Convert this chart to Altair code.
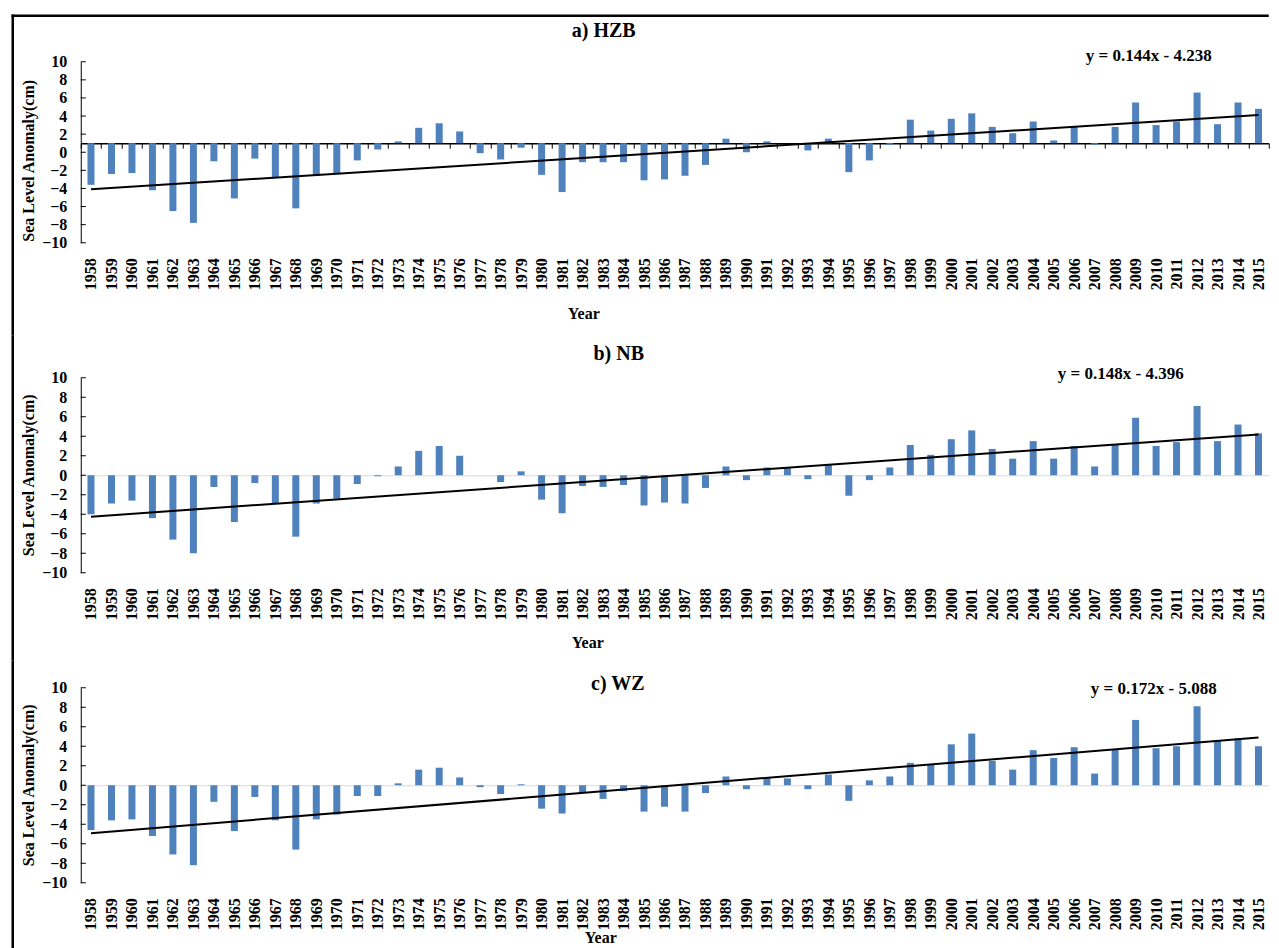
import altair as alt
import pandas as pd

years = [str(y) for y in range(1958, 2016)]

hzb = [-3.6, -2.4, -2.3, -4.2, -6.5, -7.8, -1.0, -5.1, -0.7, -2.8,
       -6.2, -2.6, -2.3, -0.9, 0.3, 1.2, 2.7, 3.2, 2.3, -0.1,
       -0.8, 0.5, -2.5, -4.4, -1.1, -1.1, -1.1, -3.1, -3.0, -2.6,
       -1.4, 1.5, 0.0, 1.2, 1.0, 0.2, 1.5, -2.2, -0.9, 0.8,
       3.6, 2.4, 3.7, 4.3, 2.8, 2.1, 3.4, 1.3, 2.9, 0.8,
       2.8, 5.5, 3.0, 3.4, 6.6, 3.1, 5.5, 4.8]
nb = [-4.0, -2.9, -2.6, -4.4, -6.6, -8.0, -1.2, -4.8, -0.8, -2.9,
      -6.3, -2.9, -2.4, -0.9, -0.1, 0.9, 2.5, 3.0, 2.0, 0.0,
      -0.7, 0.4, -2.5, -3.9, -1.1, -1.2, -1.0, -3.1, -2.8, -2.9,
      -1.3, 0.9, -0.5, 0.8, 0.8, -0.4, 1.1, -2.1, -0.5, 0.8,
      3.1, 2.1, 3.7, 4.6, 2.7, 1.7, 3.5, 1.7, 3.0, 0.9,
      3.2, 5.9, 3.0, 3.4, 7.1, 3.5, 5.2, 4.3]
wz = [-4.6, -3.6, -3.5, -5.2, -7.1, -8.2, -1.7, -4.7, -1.2, -3.6,
      -6.6, -3.5, -3.0, -1.1, -1.1, 0.2, 1.6, 1.8, 0.8, -0.2,
      -0.9, 0.1, -2.4, -2.9, -0.8, -1.4, -0.6, -2.7, -2.2, -2.7,
      -0.8, 0.9, -0.4, 0.8, 0.7, -0.4, 1.1, -1.6, 0.5, 0.9,
      2.3, 2.1, 4.2, 5.3, 2.5, 1.6, 3.6, 2.8, 3.9, 1.2,
      3.7, 6.7, 3.8, 4.0, 8.1, 4.6, 4.8, 4.0]

panel_titles = ["a) HZB", "b) NB", "c) WZ"]
slopes = [0.144, 0.148, 0.172]
intercepts = [-4.238, -4.396, -5.088]
equations = ["y = 0.144x - 4.238", "y = 0.148x - 4.396", "y = 0.172x - 5.088"]
bar_bases = [1.0, 0.0, 0.0]
y_ticks = [-10, -8, -6, -4, -2, 0, 2, 4, 6, 8, 10]
y_title = "Sea Level Anomaly(cm)"
x_title = "Year"

FONT = "Liberation Serif"
BAR = "#4F81BD"
W = 1188
FX = -68      # frame line centre, relative to plot left
FW = 2.5      # frame line thickness


def text_layer(txt, x, y, size, angle=0):
    return alt.Chart(pd.DataFrame({"t": [txt]})).mark_text(
        font=FONT, fontSize=size, fontWeight="bold", color="black",
        align="center", baseline="middle", angle=angle
    ).encode(text="t:N", x=alt.value(x), y=alt.value(y))


def frame_rect(x, x2, y, y2):
    return alt.Chart(pd.DataFrame({"a": [0]})).mark_rect(
        color="black", strokeWidth=0
    ).encode(x=alt.value(x), x2=alt.value(x2), y=alt.value(y), y2=alt.value(y2))


def panel(vals, base, title, slope, icpt, eq, H, g, first=False):
    df = pd.DataFrame({"year": years, "v": vals, "base": [base] * len(years)})
    yscale = alt.Scale(domain=[-10, 10], nice=False, zero=False)
    off = H * (base + 10) / 20.0
    is_a = base != 0
    xaxis = alt.Axis(
        title=None, orient="bottom", offset=-off, labelAngle=270,
        labelAlign="right", labelBaseline="middle",
        labelPadding=(off + 15 - 5) if is_a else (off + 15),
        labelFont=FONT, labelFontSize=16, labelFontWeight="bold",
        labelColor="black", labelOverlap=False,
        domainColor="black" if is_a else "#d9d9d9",
        domainWidth=1.5 if is_a else 1,
        ticks=is_a, tickSize=5 if is_a else 0, tickColor="black",
        tickBand="extent", grid=False,
    )
    yaxis = alt.Axis(
        title=None, values=y_ticks, ticks=False, labelPadding=14,
        labelFont=FONT, labelFontSize=16, labelFontWeight="bold",
        labelColor="black", domainColor="black", domainWidth=1, grid=False,
    )
    xscale = alt.Scale(domain=years, paddingInner=0, paddingOuter=0)
    bars = alt.Chart(df).mark_bar(width=7, color=BAR).encode(
        x=alt.X("year:N", scale=xscale, axis=xaxis),
        y=alt.Y("v:Q", scale=yscale, axis=yaxis),
        y2="base:Q",
    )
    tdf = pd.DataFrame({
        "year": [years[0], years[-1]],
        "ty": [slope * 1 + icpt, slope * len(years) + icpt],
    })
    trend = alt.Chart(tdf).mark_line(color="black", strokeWidth=2).encode(
        x=alt.X("year:N", scale=xscale, axis=xaxis),
        y=alt.Y("ty:Q", scale=yscale, axis=yaxis),
    )
    ticks = alt.Chart(pd.DataFrame({"t": y_ticks})).mark_rule(
        color="black", strokeWidth=1
    ).encode(
        y=alt.Y("t:Q", scale=yscale, axis=yaxis),
        x=alt.value(0), x2=alt.value(5),
    )
    layers = [
        bars, trend, ticks,
        text_layer(title, g["tx"], g["ty"], 20),
        text_layer(eq, g["ex"], g["ey"], 17),
        text_layer(x_title, g["yx"], g["yy"], 16),
        text_layer(y_title, -52, g["vy"], 16, angle=270),
        frame_rect(FX - FW / 2, FX + FW / 2, g["f0"], g["f1"]),
    ]
    if first:
        layers.append(frame_rect(FX - FW / 2, W, g["f0"], g["f0"] + FW))
    return alt.layer(*layers).properties(width=W, height=H)


# plot tops (page px): a 61, b 377, c 687; frame joins at 335 and 660
pa = panel(hzb, bar_bases[0], panel_titles[0], slopes[0], intercepts[0], equations[0], 181,
           dict(tx=523, ty=-31, ex=1068, ey=-6, yx=503, yy=252, vy=99,
                f0=-47.25, f1=274), first=True)
pb = panel(nb, bar_bases[1], panel_titles[1], slopes[1], intercepts[1], equations[1], 195,
           dict(tx=538, ty=-24, ex=1040, ey=-4, yx=507, yy=265, vy=97.5,
                f0=-42, f1=283))
pc = panel(wz, bar_bases[2], panel_titles[2], slopes[2], intercepts[2], equations[2], 195,
           dict(tx=537, ty=-4, ex=1073, ey=1, yx=520, yy=250, vy=97.5,
                f0=-27, f1=273))

chart = alt.vconcat(pa, pb, pc, spacing=0).properties(
    padding={"left": 2.75, "top": 5.75, "right": 0, "bottom": 0},
    background="white",
).configure_view(strokeWidth=0)

chart.save("out.html", embed_options={"renderer": "svg", "actions": False})
